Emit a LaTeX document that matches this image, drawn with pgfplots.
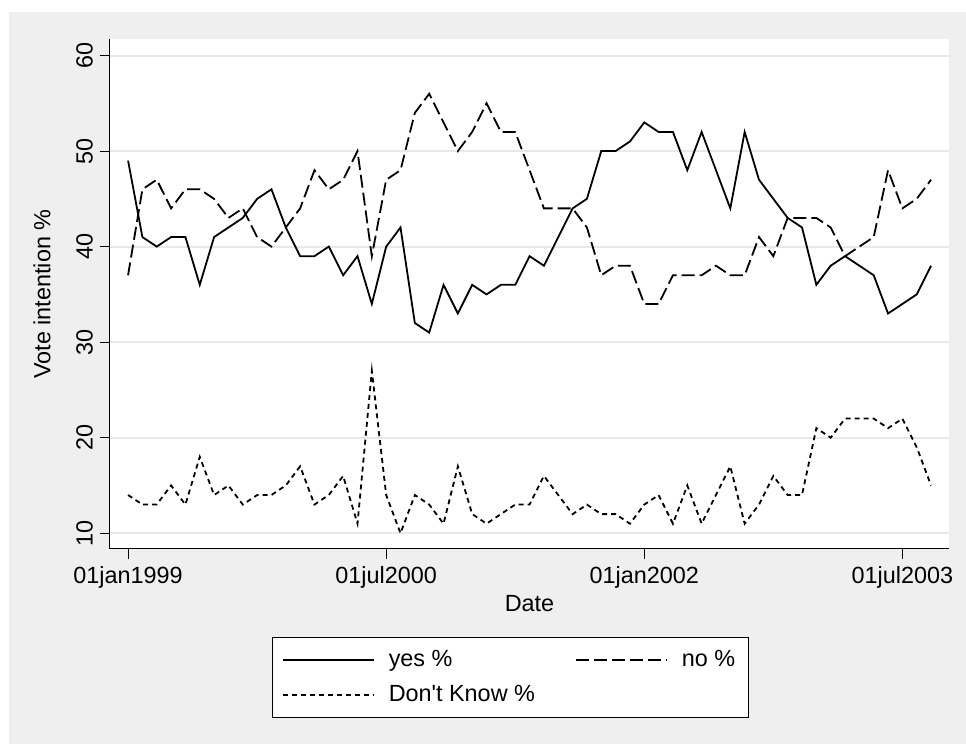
\documentclass[border=0pt]{standalone}
\usepackage{pgfplots}
\pgfplotsset{compat=1.18}
\usepackage{fontspec}
\setmainfont{Liberation Sans}[Ligatures=TeXOff]
\definecolor{bgc}{RGB}{239,239,239}
\definecolor{gridc}{RGB}{232,232,232}
\newcommand{\fs}{\fontsize{11.7}{14}\selectfont}
\pgfplotstableread{
m yes no dk
0 49 37 14
1 41 46 13
2 40 47 13
3 41 44 15
4 41 46 13
5 36 46 18
6 41 45 14
7 42 43 15
8 43 44 13
9 45 41 14
10 46 40 14
11 42 42 15
12 39 44 17
13 39 48 13
14 40 46 14
15 37 47 16
16 39 50 11
17 34 39 27
18 40 47 14
19 42 48 10
20 32 54 14
21 31 56 13
22 36 53 11
23 33 50 17
24 36 52 12
25 35 55 11
26 36 52 12
27 36 52 13
28 39 48 13
29 38 44 16
30 41 44 14
31 44 44 12
32 45 42 13
33 50 37 12
34 50 38 12
35 51 38 11
36 53 34 13
37 52 34 14
38 52 37 11
39 48 37 15
40 52 37 11
41 48 38 14
42 44 37 17
43 52 37 11
44 47 41 13
45 45 39 16
46 43 43 14
47 42 43 14
48 36 43 21
49 38 42 20
50 39 39 22
51 38 40 22
52 37 41 22
53 33 48 21
54 34 44 22
55 35 45 19
56 38 47 15
}\datatable
\begin{document}
\begin{tikzpicture}
\fill[white] (0pt,0pt) rectangle (483pt,372pt);
\fill[bgc] (4.5pt,0pt) rectangle (483pt,366pt);
\begin{axis}[
  at={(55pt,97.5pt)}, anchor=south west,
  scale only axis, width=419.5pt, height=254.85pt,
  axis background/.style={fill=white},
  axis x line*=bottom, axis y line*=left,
  axis line style={black, line width=0.5pt, -},
  xmin=-1.26, xmax=57.25, ymin=8.35, ymax=61.7,
  xtick={0,18,36,54},
  xticklabels={01jan1999,01jul2000,01jan2002,01jul2003},
  ytick={10,20,30,40,50,60},
  tick align=outside, major tick length=5pt,
  tick style={black, line width=0.5pt},
  ymajorgrids, grid style={gridc, line width=1pt},
  /pgf/number format/assume math mode=true,
  xticklabel style={font=\fs},
  yticklabel style={font=\fs, rotate=90, anchor=south},
  xlabel={Date}, ylabel={Vote intention \%},
  xlabel style={font=\fs, at={(axis description cs:0.5,-0.108)}, anchor=center},
  ylabel style={font=\fs, at={(axis description cs:-0.081,0.5)}, anchor=center},
  legend columns=2,
  legend image code/.code={\draw[#1] (0pt,0pt) -- (45.5pt,0pt);},
  legend style={font=\fs, at={(axis description cs:0.4774,-0.1727)}, anchor=north,
    draw=black, line width=0.5pt, fill=white, inner xsep=4.5pt, inner ysep=4.5pt,
    cells={anchor=west}, row sep=4pt,
    /tikz/every odd column/.append style={column sep=5pt},
    /tikz/every even column/.append style={column sep=18pt}},
]
\addplot[black, line width=0.9pt] table[x=m, y=yes] {\datatable};
\addlegendentry{yes \%}
\addplot[black, line width=0.9pt, dash pattern=on 6.5pt off 2.5pt] table[x=m, y=no] {\datatable};
\addlegendentry{no \%}
\addplot[black, line width=0.9pt, dash pattern=on 2.5pt off 2pt] table[x=m, y=dk] {\datatable};
\addlegendentry{Don't Know \%}
\end{axis}
\end{tikzpicture}
\end{document}
